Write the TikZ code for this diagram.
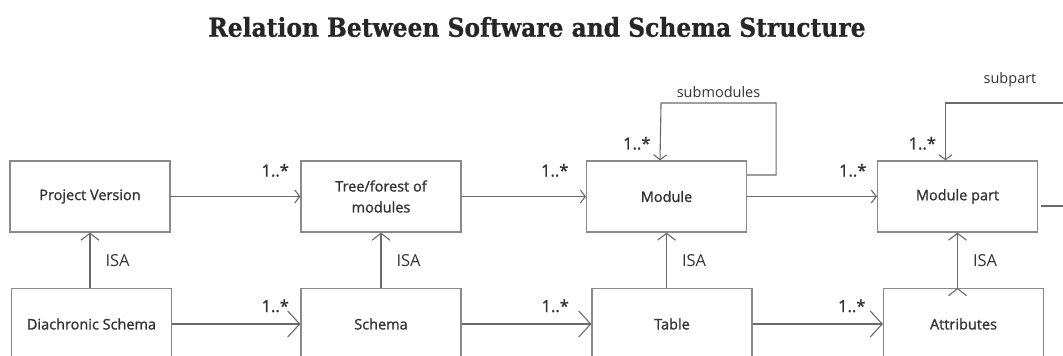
\documentclass[tikz,border=0pt]{standalone}
\usepackage{fontspec}
\setmainfont{Open Sans}[BoldFont={Open Sans},BoldFeatures={FakeBold=1.2}]
\newfontfamily\slabfont{DejaVu Serif Condensed}[BoldFeatures={FakeBold=0.6}]
\usetikzlibrary{arrows.meta}
\definecolor{boxgray}{HTML}{8A8A8A}
\definecolor{edgegray}{HTML}{6A6A6A}
\definecolor{txt}{HTML}{333333}

\begin{document}
\begin{tikzpicture}[x=1pt,y=-1pt,node distance=291pt]
\tikzstyle{box}=[draw=boxgray,line width=1.1pt,minimum width=160pt,minimum height=71pt,
  align=center,text=txt,font=\fontsize{14.5}{21}\selectfont\bfseries]
\tikzstyle{link}=[draw=edgegray,line width=1.1pt,-{Straight Barb[length=5pt,width=13pt]}]
\tikzstyle{biglink}=[draw=edgegray,line width=1.1pt,-{Straight Barb[length=12pt,width=26pt]}]
\tikzstyle{isa}=[draw=edgegray,line width=1.1pt,-{Straight Barb[length=7pt,width=18pt]}]
\tikzstyle{mult}=[pos=1,anchor=base east,inner sep=0pt,text=txt,font=\fontsize{16.5}{16.5}\selectfont\bfseries]
\tikzstyle{role}=[text=txt,font=\fontsize{14.5}{14.5}\selectfont]
\useasboundingbox (0,0) rectangle (1063,356);
\clip (0,0) rectangle (1063,356);

\node [text=black!85,font=\slabfont\bfseries\fontsize{26}{26}\selectfont] at (537,27) (title)
  {Relation Between Software and Schema Structure};

% software side
\node [box] at (90,196.5) (pv) {Project Version};
\node [box,right of = pv] (tree) {Tree/forest of\\modules};
\node [box,right of = tree,node distance=285.5pt] (module) {Module};
\node [box,right of = module] (mpart) {Module part};
% schema side
\node [box,below of = pv,node distance=127.5pt,xshift=1.5pt] (ds) {Diachronic Schema};
\node [box,below of = tree,node distance=127.5pt] (schema) {Schema};
\node [box,below of = module,node distance=127.5pt,xshift=5.5pt] (table) {Table};
\node [box,below of = mpart,node distance=127.5pt,xshift=6pt] (attr) {Attributes};
\coordinate (off1) at (1070,103);
\coordinate (off2) at (1070,206);

\path [link]
    (pv) edge node [mult,xshift=-11pt,yshift=20pt] {1..*} (tree)
    (tree) edge node [mult,xshift=-17pt,yshift=20pt] {1..*} (module)
    (module) edge node [mult,xshift=-10pt,yshift=20pt] {1..*} (mpart);
\path [biglink]
    (ds) edge node [mult,xshift=-11pt,yshift=12pt] {1..*} (schema)
    (schema) edge node [mult,xshift=-22pt,yshift=12pt] {1..*} (table)
    (table) edge node [mult,xshift=-17pt,yshift=12pt] {1..*} (attr);
\path [isa,every node/.style={midway,anchor=west,inner sep=0pt,xshift=15pt,text=txt,font=\fontsize{16.5}{16.5}\selectfont}]
    (ds.north -| pv.south) edge node {ISA} (pv.south)
    (schema.north -| tree.south) edge node {ISA} (tree.south)
    (table.north -| module.south) edge node {ISA} (module.south)
    (attr.north -| mpart.south) edge node {ISA} (mpart.south);

% self loops
\draw [link] ([yshift=21.5pt]module.east) -- ++(29pt,0) -- ++(0,72pt)
    -- node [above,inner sep=5pt,role] {submodules} ++(-115pt,0)
    -- ([xshift=-6.5pt]module.north) node [mult,xshift=-9pt,yshift=11pt] {1..*};
\draw [link] (off1) -- ([xshift=-12pt]mpart.north |- off1)
    -- ([xshift=-12pt]mpart.north) node [mult,xshift=-9pt,yshift=11pt] {1..*};
\node [role] at (1010,80) (subpart) {subpart};
\draw [draw=edgegray,line width=1.1pt] ([xshift=3pt,yshift=-9.5pt]mpart.east) -- (off2);
\end{tikzpicture}
\end{document}
